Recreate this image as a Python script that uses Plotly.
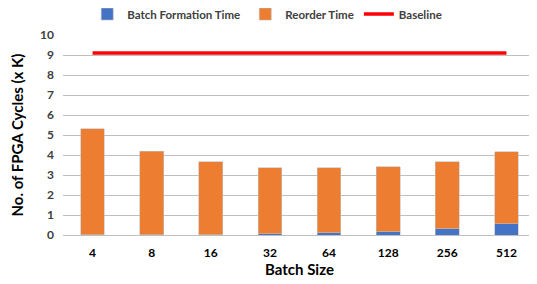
import plotly.graph_objects as go

batch_sizes = ["4", "8", "16", "32", "64", "128", "256", "512"]
batch_formation = [0.005, 0.01, 0.02, 0.06, 0.12, 0.17, 0.32, 0.57]
reorder_time = [5.30, 4.18, 3.64, 3.31, 3.24, 3.25, 3.34, 3.59]
baseline = [9.1] * 8
y_ticks = list(range(0, 11))

FONT = "Lato"

fig = go.Figure()
fig.add_trace(go.Bar(
    x=batch_sizes, y=batch_formation, name="Batch Formation Time",
    marker=dict(color="#4472C4", line=dict(color="#BFBFBF", width=0.6)),
))
fig.add_trace(go.Bar(
    x=batch_sizes, y=reorder_time, name="Reorder Time",
    marker=dict(color="#ED7D31", line=dict(color="#BFBFBF", width=0.6)),
))
fig.add_trace(go.Scatter(
    x=batch_sizes, y=baseline, name="Baseline", mode="lines",
    line=dict(color="#FF0000", width=3.5),
))

# page body has an 8px margin, so the figure is sized to fit the window
fig.update_layout(
    width=529, height=276,
    margin=dict(l=55, r=1, t=27, b=49, autoexpand=False),
    barmode="stack", bargap=0.6,
    plot_bgcolor="white", paper_bgcolor="white",
    font=dict(family=FONT, color="#404040"),
    showlegend=True,
    legend=dict(
        orientation="h", xref="container", yref="container",
        x=0.49, xanchor="center", y=0.978, yanchor="middle",
        traceorder="normal",
        font=dict(size=11.5, family=FONT, color="#404040", weight="bold"),
        itemwidth=30, tracegroupgap=0, bgcolor="rgba(0,0,0,0)",
    ),
    xaxis=dict(
        type="category", showgrid=False, showline=True, linecolor="#BFBFBF",
        ticks="", ticklabelstandoff=7,
        tickfont=dict(size=12, family=FONT, color="#000000", weight="bold"),
        title=dict(text="Batch Size", font=dict(size=15, family=FONT, color="#000000", weight="bold"), standoff=5),
    ),
    yaxis=dict(
        range=[0, 10], tickvals=y_ticks, showgrid=True, gridcolor="#BFBFBF", gridwidth=1,
        zeroline=False, ticks="", ticklabelstandoff=8,
        tickfont=dict(size=12, family=FONT, color="#404040", weight="bold"),
        title=dict(text="No. of FPGA Cycles (x K)", font=dict(size=15, family=FONT, color="#000000", weight="bold"), standoff=12),
    ),
)

fig.write_html("out.html")
